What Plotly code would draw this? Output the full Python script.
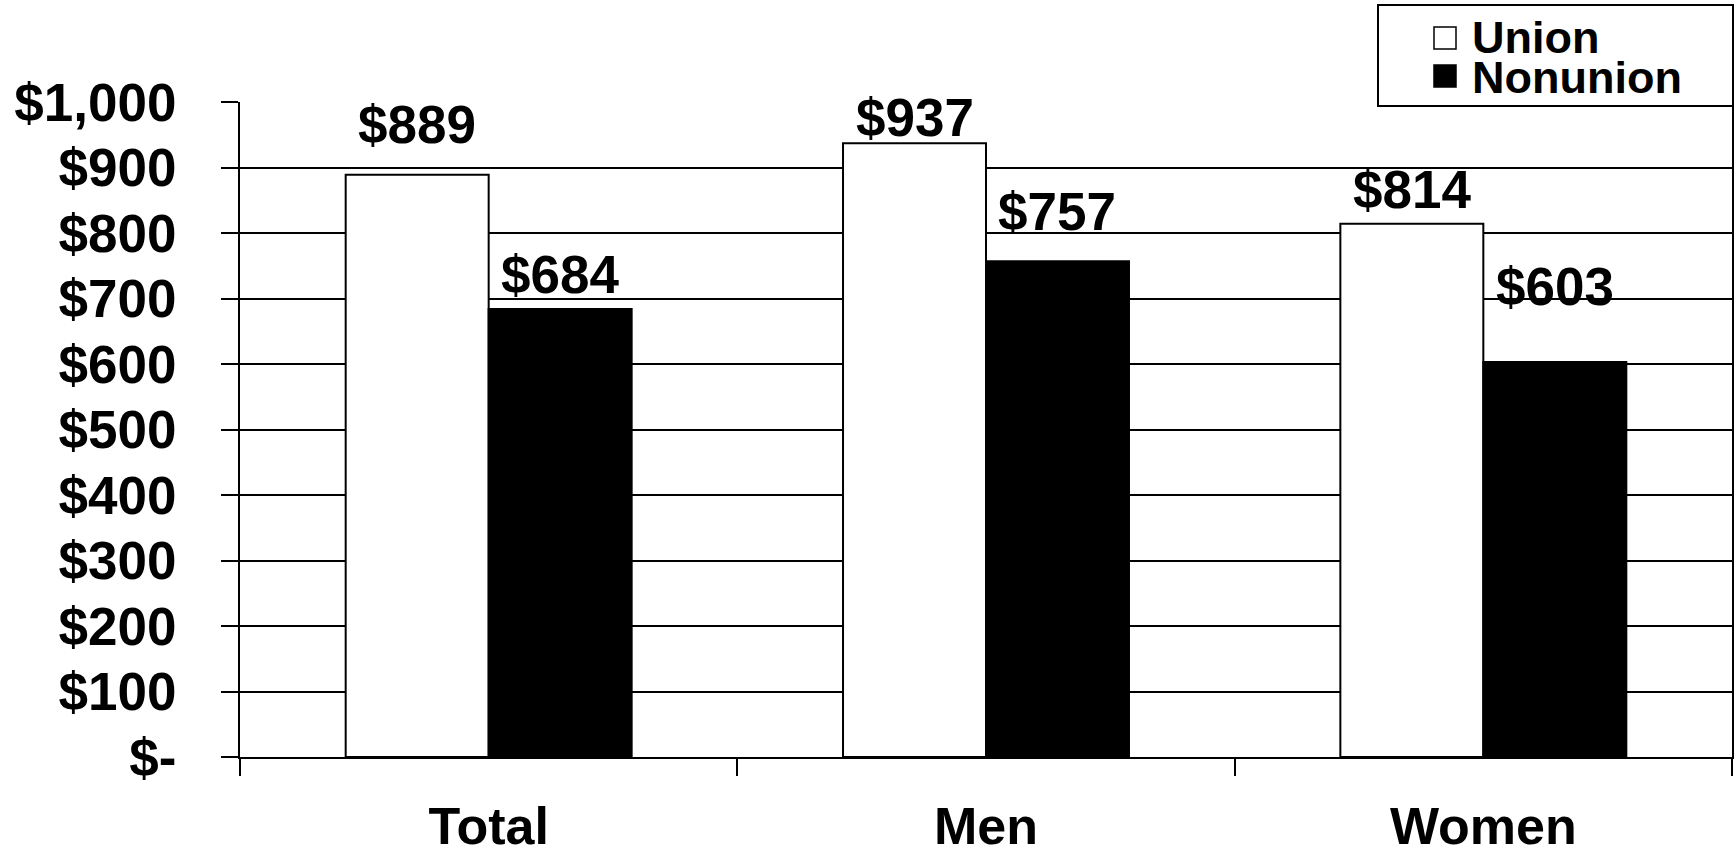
import plotly.graph_objects as go

# Median weekly earnings by union status
categories = ["Total", "Men", "Women"]
union = [889, 937, 814]
nonunion = [684, 757, 603]
ytick_vals = [0, 100, 200, 300, 400, 500, 600, 700, 800, 900, 1000]
ytick_text = ["$-", "$100", "$200", "$300", "$400", "$500", "$600",
              "$700", "$800", "$900", "$1,000"]

# label lift above each bar, in pixels (union, nonunion)
union_lift = [50, 26, 34]
nonunion_lift = [34, 50, 76]

W, H = 1736, 859
L, R, T, B = 240, 4, 102, 102
FONT = "Arial, 'Liberation Sans', sans-serif"
BARGAP = 0.425


def px_x(px):
    return (px - L) / (W - L - R)


def px_y(py):
    return (H - B - py) / (H - T - B)


fig = go.Figure()
fig.add_trace(go.Bar(x=categories, y=union, name="Union",
                     marker=dict(color="white", line=dict(color="black", width=2)),
                     showlegend=False))
fig.add_trace(go.Bar(x=categories, y=nonunion, name="Nonunion",
                     marker=dict(color="black", line=dict(color="black", width=2)),
                     showlegend=False))

half = (1 - BARGAP) / 4
annotations = []
for i, (u, n) in enumerate(zip(union, nonunion)):
    annotations.append(dict(x=i - half, y=u, xref="x", yref="y",
                            text=f"${u}", showarrow=False, yanchor="middle",
                            yshift=union_lift[i],
                            font=dict(family=FONT, size=53, color="black", weight="bold")))
    annotations.append(dict(x=i + half, y=n, xref="x", yref="y",
                            text=f"${n}", showarrow=False, yanchor="middle",
                            yshift=nonunion_lift[i],
                            font=dict(family=FONT, size=53, color="black", weight="bold")))

# legend box drawn by hand
shapes = [
    dict(type="rect", xref="paper", yref="paper",
         x0=px_x(1378), x1=px_x(1733), y0=px_y(106), y1=px_y(5),
         line=dict(color="black", width=2), fillcolor="white", layer="above"),
    dict(type="rect", xref="paper", yref="paper",
         x0=px_x(1434), x1=px_x(1456), y0=px_y(49), y1=px_y(27),
         line=dict(color="black", width=1.5), fillcolor="white", layer="above"),
    dict(type="rect", xref="paper", yref="paper",
         x0=px_x(1434), x1=px_x(1456), y0=px_y(87), y1=px_y(65),
         line=dict(color="black", width=1.5), fillcolor="black", layer="above"),
]
for label, cy in (("Union", 37), ("Nonunion", 77)):
    annotations.append(dict(x=px_x(1470), y=px_y(cy), xref="paper", yref="paper",
                            text=label, showarrow=False, xanchor="left", yanchor="middle",
                            height=40, valign="middle",
                            font=dict(family=FONT, size=45, color="black", weight="bold")))

fig.update_layout(
    width=W, height=H,
    margin=dict(l=L, r=R, t=T, b=B, pad=0, autoexpand=False),
    paper_bgcolor="white", plot_bgcolor="white",
    barmode="group", bargap=BARGAP, bargroupgap=0,
    showlegend=False,
    annotations=annotations, shapes=shapes,
    font=dict(family=FONT, color="black"),
)
fig.update_xaxes(type="category", range=[-0.5, 2.5], tickson="boundaries",
                 automargin=False,
                 ticks="outside", ticklen=17, tickwidth=2, tickcolor="black",
                 showline=True, linecolor="black", linewidth=2,
                 showgrid=False, ticklabelstandoff=23,
                 tickfont=dict(family=FONT, size=52, color="black", weight="bold"))
fig.update_yaxes(range=[0, 1000], tickvals=ytick_vals, ticktext=ytick_text,
                 automargin=False,
                 ticks="outside", ticklen=17, tickwidth=2, tickcolor="black",
                 showline=True, linecolor="black", linewidth=2, mirror=True,
                 showgrid=True, gridcolor="black", gridwidth=2, zeroline=False,
                 ticklabelstandoff=34,
                 tickfont=dict(family=FONT, size=53, color="black", weight="bold"))

fig.write_html("out.html")
